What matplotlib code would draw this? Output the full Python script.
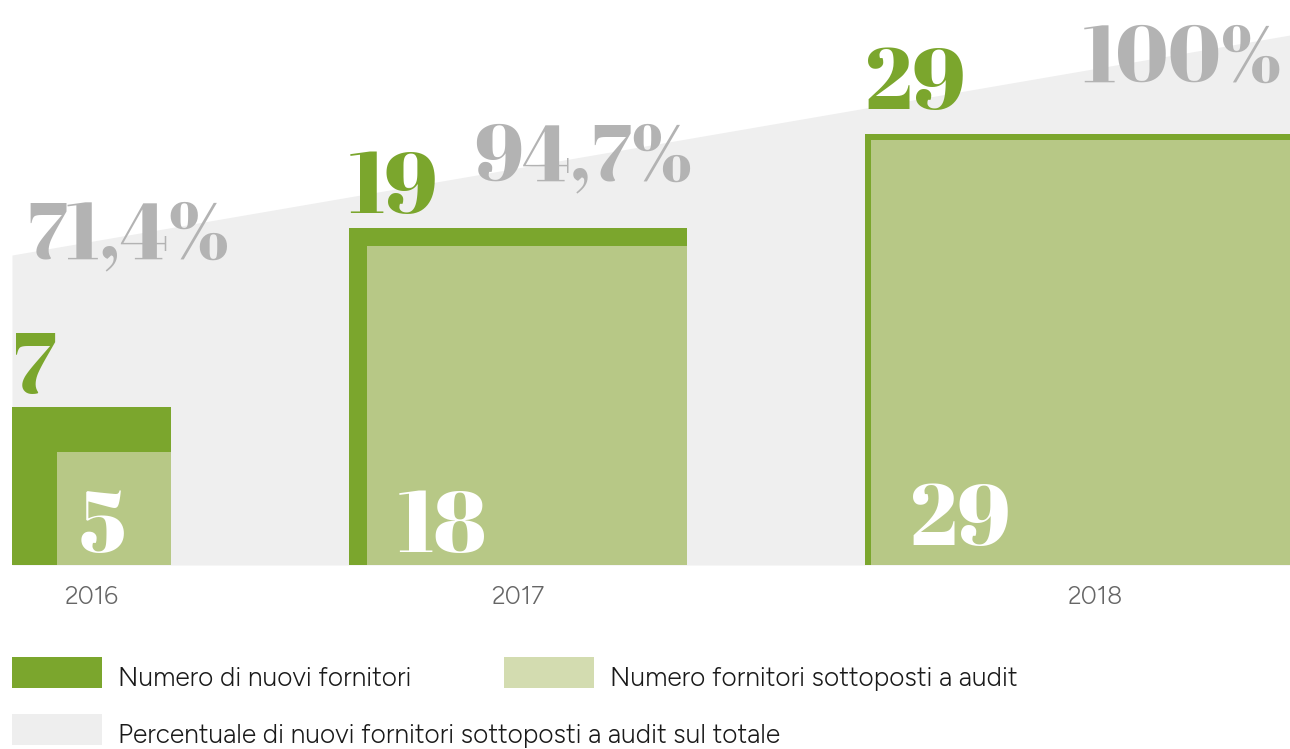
import matplotlib
matplotlib.use("Agg")
import matplotlib.pyplot as plt
from matplotlib.patches import Rectangle

# ---- data ----
years = ["2016", "2017", "2018"]
new_suppliers = [7, 19, 29]
audited_suppliers = [5, 18, 29]
audit_pct = ["71,4%", "94,7%", "100%"]

# ---- layout (pixel-like units, y up, baseline at 0) ----
bar_left = [12, 349, 865]
bar_width = [159, 338, 460]
bar_side = [158, 337, 431.5]
min_inset = 6
band_x = [12, 1290]
band_top = [310, 530]
new_lbl_gap = [14, 15, 24]
aud_lbl_x = [80, 398, 910]
aud_lbl_y = [13, 13, 20]
pct_lbl_x = [128, 583, 1282]
pct_lbl_ha = ["center", "center", "right"]
pct_lbl_y = [307, 385, 483]

DARK = "#7BA62D"
LIGHT = "#B7C886"
LIGHT_LEG = "#D3DCB0"
BAND = "#EFEFEF"
PCT_COL = "#B3B3B3"
YEAR_COL = "#666666"
TXT_COL = "#1A1A1A"

NUM_FONT = "Abril Fatface"
NUM_SIZE = 62
PCT_SIZE = 57
SANS = ["Figtree", "Lato", "DejaVu Sans"]

fig = plt.figure(figsize=(12.9, 7.49), dpi=100)
ax = fig.add_axes([0, 0, 1, 1])
ax.set_xlim(0, 1290)
ax.set_ylim(-184, 565)
ax.axis("off")

# background band
ax.fill_between(band_x, band_top, 0, color=BAND, lw=0, zorder=0)

# dark squares
ax.bar(bar_left, bar_side, width=bar_width, align="edge", color=DARK, lw=0, zorder=2)

# light squares anchored bottom-right
for i in range(len(years)):
    inset = max(bar_side[i] * (1 - audited_suppliers[i] / new_suppliers[i]), min_inset)
    ax.bar(bar_left[i] + inset, bar_side[i] - inset, width=bar_width[i] - inset,
           align="edge", color=LIGHT, lw=0, zorder=3)

# numbers
for i in range(len(years)):
    ax.text(bar_left[i], bar_side[i] + new_lbl_gap[i], str(new_suppliers[i]),
            family=NUM_FONT, fontsize=NUM_SIZE, color=DARK,
            ha="left", va="baseline", zorder=5)
    ax.text(aud_lbl_x[i], aud_lbl_y[i], str(audited_suppliers[i]),
            family=NUM_FONT, fontsize=NUM_SIZE, color="white",
            ha="left", va="baseline", zorder=5)
    ax.text(pct_lbl_x[i], pct_lbl_y[i], audit_pct[i],
            family=NUM_FONT, fontsize=PCT_SIZE, color=PCT_COL,
            ha=pct_lbl_ha[i], va="baseline", zorder=5)
    ax.text(bar_left[i] + bar_width[i] / 2, -32, years[i], family=SANS,
            fontsize=18, color=YEAR_COL, ha="center", va="center")

# legend
leg_items = [
    (12, -92, DARK, "Numero di nuovi fornitori"),
    (504, -92, LIGHT_LEG, "Numero fornitori sottoposti a audit"),
    (12, -149, "#EEEEEE", "Percentuale di nuovi fornitori sottoposti a audit sul totale"),
]
for x0, ytop, col, label in leg_items:
    ax.add_patch(Rectangle((x0, ytop - 30.5), 89.5, 30.5, color=col, lw=0))
    ax.text(x0 + 106, ytop - 29, label, family=SANS, fontsize=19, color=TXT_COL,
            ha="left", va="baseline")

fig.savefig("out.png", dpi=100)
